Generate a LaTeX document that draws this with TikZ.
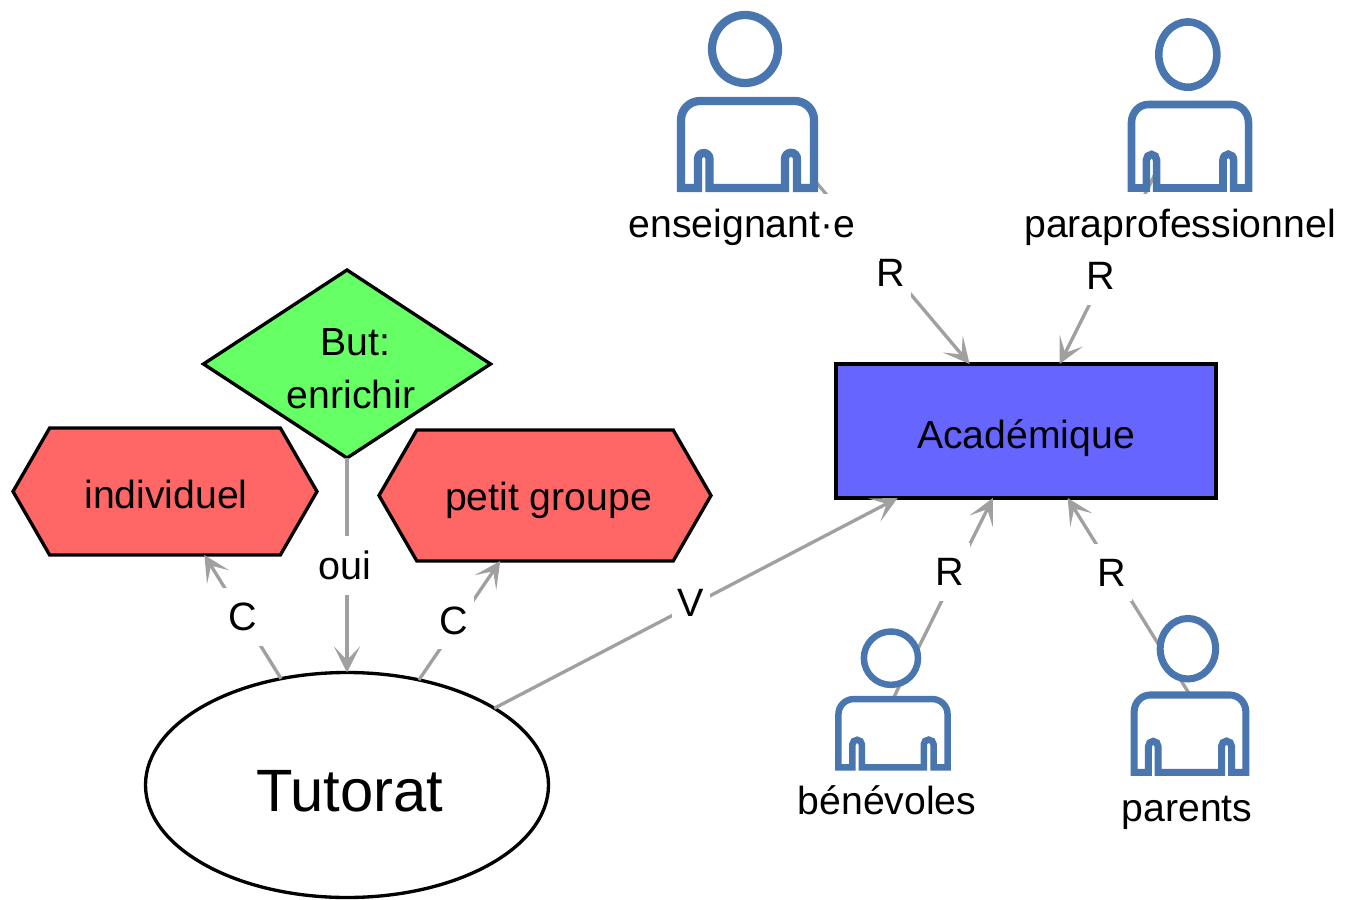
\documentclass[tikz,border=0pt]{standalone}
\usepackage{fontspec}
\setmainfont{Liberation Sans}
\usepackage{tkz-graph}
\usetikzlibrary{arrows.meta,shapes.geometric,shapes.symbols}

\definecolor{linkgray}{HTML}{A0A0A0}
\definecolor{personblue}{HTML}{4A76B0}
\definecolor{goalgreen}{HTML}{66FF66}
\definecolor{formred}{HTML}{FF6666}
\definecolor{domainblue}{HTML}{6666FF}

\tikzset{
    VertexStyle/.style={outer sep=0pt},
    EdgeStyle/.style={-{Stealth[length=.52cm,width=.52cm,inset=.27cm]}, draw=linkgray, line width=1.9pt},
    LabelStyle/.style={fill=white, inner xsep=.12cm, inner ysep=.3cm, text=black, font=\fontsize{22.5}{26}\selectfont},
    shapebox/.style={draw=black, line width=1.9pt, align=center, inner sep=0pt},
    hexbox/.style={shapebox, shape=signal, signal to=west and east, signal pointer angle=120, fill=formred},
    namebox/.style={fill=white, inner xsep=.5cm, inner ysep=.3cm},
    personline/.style={draw=personblue, fill=white},
    person/.pic={
        \draw[personline, miter limit=10] (-1.33,-1.74) -- (-1.33,-.38) arc[start angle=180, end angle=90, radius=.38]
            -- (.95,0) arc[start angle=90, end angle=0, radius=.38] -- (1.33,-1.74) -- (.99,-1.74) -- (.99,-1.155)
            arc[start angle=0, end angle=180, radius=.12] -- (.75,-1.74) -- (-.76,-1.74) -- (-.76,-1.155)
            arc[start angle=0, end angle=180, radius=.115] -- (-.99,-1.74) -- cycle;
        \draw[personline] (-.05,1.04) ellipse[x radius=.66, y radius=.68];
    }
}

\begin{document}
\begin{tikzpicture}[font=\fontsize{22.3}{30.6}\selectfont]
        \useasboundingbox (0,0) rectangle (26.9,-17.98);

        \Vertex[x=20.52, y=-8.62, L=Académique, style={shapebox, shape=rectangle, minimum width=7.6cm, minimum height=2.68cm, fill=domainblue, text height=.85cm}]{academique}
        \Vertex[x=6.94, y=-15.7, L={\fontsize{34}{40}\selectfont\hspace{.12cm}\rule{0pt}{1.06cm}Tutorat}, style={shapebox, shape=ellipse, minimum width=8.06cm, minimum height=4.5cm, fill=white}]{tutorat}
        \Vertex[x=6.94, y=-7.28, L={\hspace{.34cm}\rule{0pt}{.73cm}But:\\\hspace{.16cm}enrichir}, style={shapebox, shape=diamond, minimum width=5.74cm, minimum height=3.76cm, shape aspect=1.53, fill=goalgreen}]{but}
        \Vertex[x=3.3, y=-9.83, L={\hspace{.04cm}individuel}, style={hexbox, minimum width=6.08cm, minimum height=2.54cm, text height=.69cm}]{individuel}
        \Vertex[x=10.9, y=-9.91, L={\hspace{.14cm}petit groupe}, style={hexbox, minimum width=6.64cm, minimum height=2.62cm, text height=.77cm}]{petit}
        \Vertex[x=14.95, y=-2.02, NoLabel, style={inner sep=0pt}]{enseignant}
        \Vertex[x=23.8, y=-2.09, NoLabel, style={inner sep=0pt}]{paraprof}
        \Vertex[x=17.86, y=-13.98, NoLabel, style={inner sep=0pt}]{benevoles}
        \Vertex[x=23.8, y=-13.9, NoLabel, style={inner sep=0pt}]{parents}

        \Edge[label=oui, labelstyle={pos=.5, xshift=-.04cm}](but)(tutorat)
        \Edge[label=C, labelstyle={pos=.5}](tutorat)(individuel)
        \Edge[label=C, labelstyle={pos=.5, xshift=-.12cm}](tutorat)(petit)
        \Edge[label=V, labelstyle={pos=.5, xshift=-.1cm}](tutorat)(academique)
        \Edge[label=R, labelstyle={pos=.654, xshift=-.04cm}](enseignant)(academique)
        \Edge[label=R, labelstyle={pos=.66, xshift=-.06cm}](paraprof)(academique)
        \Edge[label=R, labelstyle={pos=.63, xshift=-.12cm}](benevoles)(academique)
        \Edge[label=R, labelstyle={pos=.62, xshift=-.04cm}](parents)(academique)

        \Vertex[x=14.84, y=-4.55, L=enseignant·e, style={namebox}]{name_e}
        \Vertex[x=23.6, y=-4.55, L=paraprofessionnel, style={namebox}]{name_p}
        \Vertex[x=17.74, y=-16, L=bénévoles, style={namebox}]{name_b}
        \Vertex[x=23.74, y=-16.26, L=parents, style={namebox}]{name_r}

        \pic[line width=4.7pt] at (enseignant) {person};
        \pic[line width=4.3pt, xscale=.88, yscale=.96] at (paraprof) {person};
        \pic[line width=3.7pt, xscale=.82, yscale=.785] at (benevoles) {person};
        \pic[line width=4pt, xscale=.84, yscale=.89] at (parents) {person};
\end{tikzpicture}
\end{document}
